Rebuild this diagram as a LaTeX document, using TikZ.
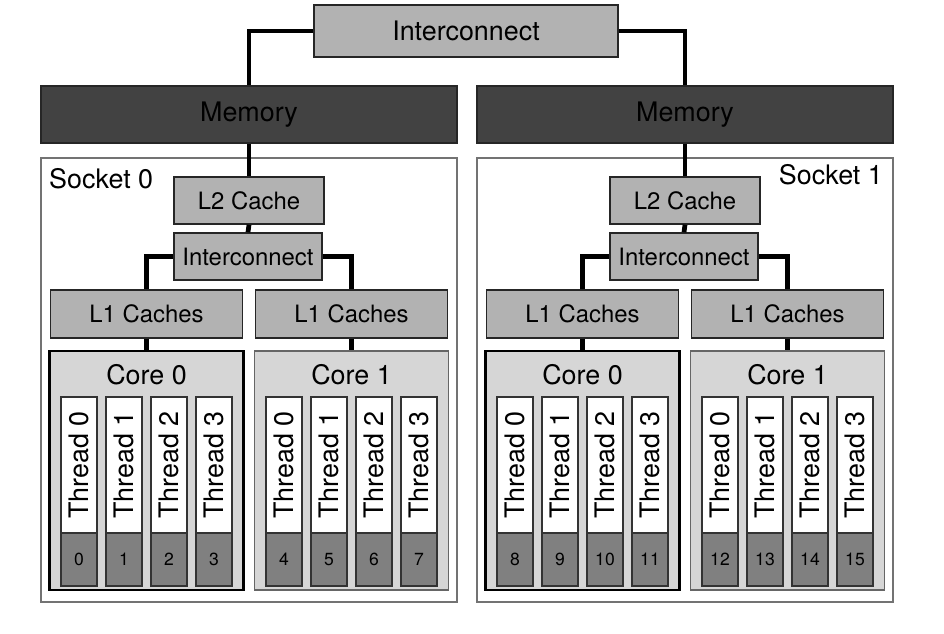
\documentclass[tikz,border=0pt]{standalone}
\usepackage{fontspec}
\setmainfont{TeX Gyre Heros}
\begin{document}
\begin{tikzpicture}[x=0.02cm,y=-0.02cm,
    unit/.style={draw=black!85,fill=black!30,line width=0.8pt,inner sep=0pt},
    bigfont/.style={font=\fontsize{15.3}{18}\selectfont},
    smallfont/.style={font=\fontsize{13.6}{16}\selectfont},
    core0/.style={draw=black,line width=1.6pt,fill=black!16},
    core1/.style={draw=black!60,line width=0.8pt,fill=black!16},
    thread/.style={draw=black!80,line width=0.7pt,fill=white,inner sep=0pt,rotate=90,
                   minimum width=2.72cm,minimum height=0.72cm,bigfont},
    numbox/.style={draw=black!80,line width=0.7pt,fill=black!50,inner sep=0pt,
                   minimum width=0.72cm,minimum height=1.06cm,font=\fontsize{10}{11}\selectfont},
    link/.style={line width=2.7pt,draw=black}]

\useasboundingbox (0,0) rectangle (944,634);

% top level
\node[unit,bigfont,minimum width=6.08cm,minimum height=1.04cm] (ic) at (466,31) {Interconnect};

\foreach \s/\dx in {0/0,1/436} {
    \node[draw=black!55,line width=0.8pt,fill=white,minimum width=8.32cm,minimum height=8.88cm] (sock\s) at (249+\dx,380) {};
    \node[unit,fill=black!74,bigfont,minimum width=8.32cm,minimum height=1.14cm] (mem\s) at (249+\dx,114.5) {Memory};
    \node[unit,smallfont,minimum width=3.0cm,minimum height=0.94cm] (ltwo\s) at (249+\dx,200.5) {L2 Cache};
    \node[unit,smallfont,minimum width=2.96cm,minimum height=0.94cm] (ics\s) at (248+\dx,256.5) {Interconnect};
    \draw[link] (mem\s.south) -- (ltwo\s.north);
    \draw[link] (ltwo\s.south) -- (ics\s.north);
    \foreach \c/\cx in {0/146.5,1/351.5} {
        \node[core\c,minimum width=3.88cm,minimum height=4.78cm] (core\s\c) at (\cx+\dx,470.5) {};
        \node[bigfont] (corelab\s\c) at (\cx+\dx,375) {Core \c};
        \node[unit,smallfont,minimum width=3.84cm,minimum height=0.96cm] (lone\s\c) at (\cx+\dx,314) {L1 Caches};
        \draw[link] (lone\s\c.south) -- (core\s\c.north);
        \foreach \t in {0,...,3} {
            \pgfmathtruncatemacro\n{8*\s+4*\c+\t}
            \node[thread] (thr\s\c\t) at (\cx+\dx+\t*45-67.5,465) {Thread \t};
            \node[numbox] (num\s\c\t) at (\cx+\dx+\t*45-67.5,559.5) {\n};
        }
    }
    \draw[link] (ics\s.west) -| (lone\s0.north);
    \draw[link] (ics\s.east) -| (lone\s1.north);
}

\node[bigfont,anchor=west] (lab0) at (43,179) {Socket 0};
\node[bigfont,anchor=east] (lab1) at (889,175) {Socket 1};

\draw[link] (ic.west) -| (mem0.north);
\draw[link] (ic.east) -| (mem1.north);
\end{tikzpicture}
\end{document}
